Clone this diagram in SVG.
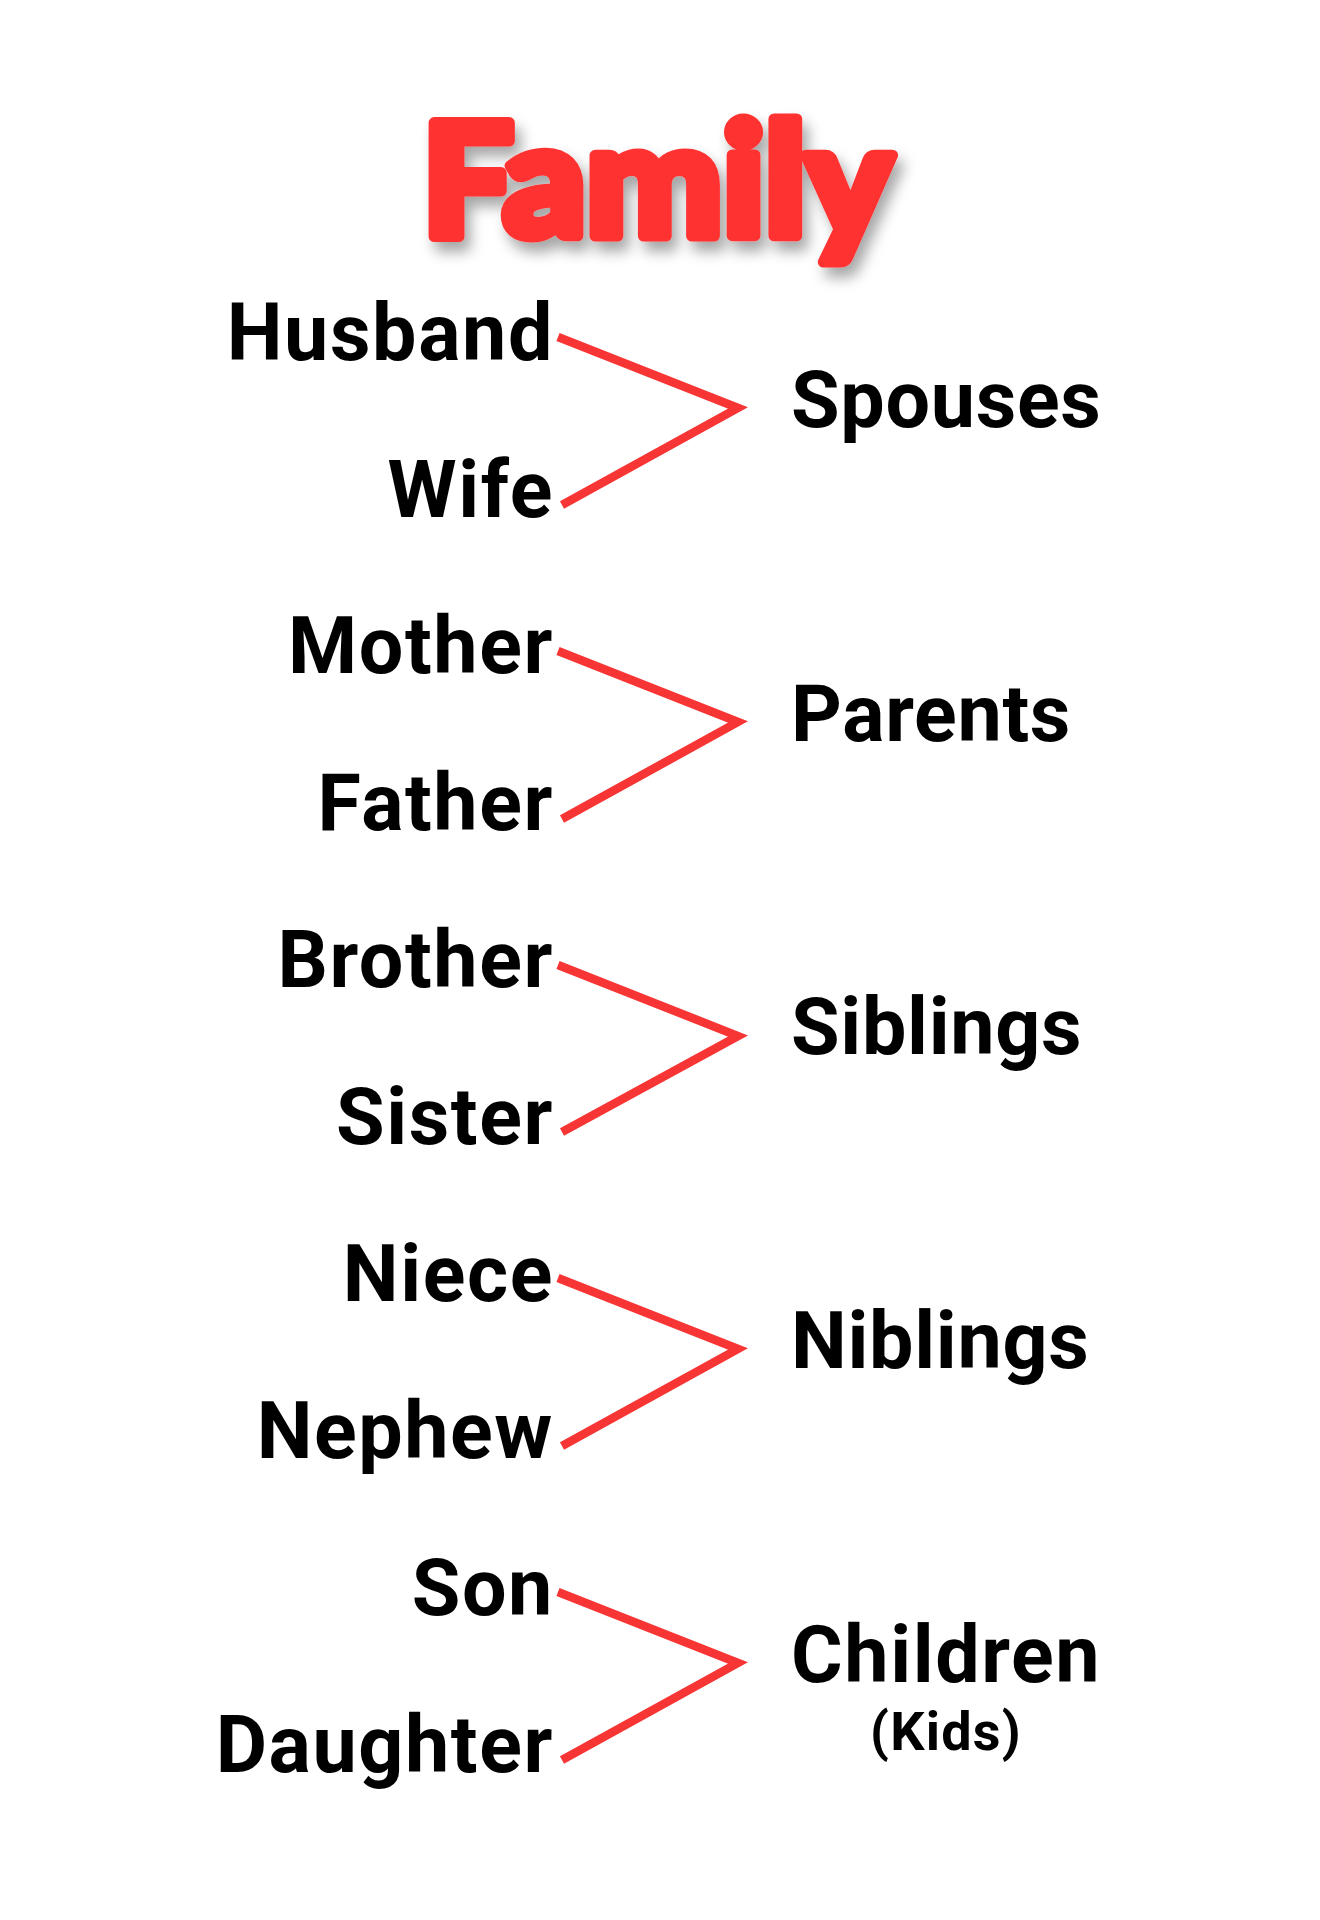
<svg xmlns="http://www.w3.org/2000/svg" width="1320" height="1920" viewBox="0 0 1320 1920">
<defs>
<filter id="shadow" x="-20%" y="-30%" width="140%" height="170%">
<feDropShadow dx="6" dy="10" stdDeviation="7" flood-color="#000" flood-opacity="0.35"/>
</filter>
<style>
.w{font-family:Roboto,"Liberation Sans",sans-serif;font-weight:700;font-size:79px;letter-spacing:1.6px;fill:#000}
.r{letter-spacing:0.7px}
.l{text-anchor:end}
.k{font-size:54px;letter-spacing:1.2px;text-anchor:middle}
.c{fill:none;stroke:#f83535;stroke-width:8.5;stroke-linejoin:miter;stroke-linecap:butt}
.t{font-family:Lato,"DejaVu Sans",sans-serif;font-weight:900;font-size:156px;fill:#ff3333;stroke:#ff3333;stroke-width:11;stroke-linejoin:round}
</style>
</defs>
<rect width="1320" height="1920" fill="#fff"/>
<g id="title" filter="url(#shadow)"><text class="t" x="422" y="236" textLength="470" lengthAdjust="spacingAndGlyphs">Family</text></g>
<g id="connectors">
<polyline class="c" points="558,337 738,408 562,505"/>
<polyline class="c" points="558,651 738,722 562,819"/>
<polyline class="c" points="558,965 738,1036 562,1132"/>
<polyline class="c" points="558,1278 738,1349 562,1446"/>
<polyline class="c" points="558,1592 738,1663 562,1760"/>
</g>
<g id="husband"><text class="w l" x="554" y="360">Husband</text></g>
<g id="wife"><text class="w l" x="554" y="517">Wife</text></g>
<g id="spouses"><text class="w r" x="791" y="427">Spouses</text></g>
<g id="mother"><text class="w l" x="554" y="673">Mother</text></g>
<g id="father"><text class="w l" x="554" y="830">Father</text></g>
<g id="parents"><text class="w r" x="791" y="741">Parents</text></g>
<g id="brother"><text class="w l" x="554" y="987">Brother</text></g>
<g id="sister"><text class="w l" x="554" y="1144">Sister</text></g>
<g id="siblings"><text class="w r" x="791" y="1054">Siblings</text></g>
<g id="niece"><text class="w l" x="554" y="1301">Niece</text></g>
<g id="nephew"><text class="w l" x="554" y="1458">Nephew</text></g>
<g id="niblings"><text class="w r" x="791" y="1368">Niblings</text></g>
<g id="son"><text class="w l" x="554" y="1615">Son</text></g>
<g id="daughter"><text class="w l" x="554" y="1772">Daughter</text></g>
<g id="children"><text class="w" x="791" y="1682">Children</text><text class="w k" x="946" y="1750">(Kids)</text></g>
</svg>
